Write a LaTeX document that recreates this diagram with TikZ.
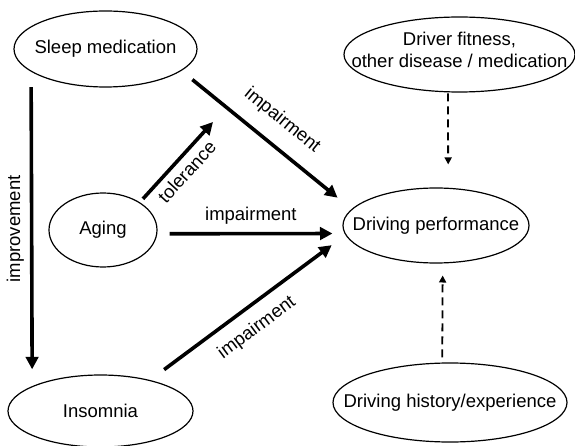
\documentclass[tikz,border=0pt]{standalone}
\usepackage{fontspec}
\setmainfont{Liberation Sans}
\usetikzlibrary{shapes.geometric, arrows.meta}
\newcommand{\diagfont}{\fontsize{18.5}{22}\selectfont}
\tikzset{
    oval/.style={draw, ellipse, line width=1.2pt, inner sep=0pt, font=\diagfont},
    lbl/.style={inner sep=1pt, font=\diagfont},
    bigarrow/.style={-{Triangle[length=12.5pt,width=12.5pt]}, line width=3.6pt},
    dasharrow/.style={-{Triangle[length=7pt,width=7pt]}, line width=1.8pt, dash pattern=on 8pt off 5pt}
}

\begin{document}
\begin{tikzpicture}[x=1pt, y=-1pt]
        \useasboundingbox (0,0) rectangle (575,446);

        % Cause side
        \node (sleep) [oval, minimum width=183pt, minimum height=76pt] at (105.5,49) {\makebox[0pt]{Sleep medication}};
        \node (aging) [oval, minimum width=108pt, minimum height=74pt] at (103,230) {\makebox[0pt]{Aging}};
        \node (insomnia) [oval, minimum width=185pt, minimum height=72pt] at (100.5,411) {\makebox[0pt]{Insomnia}};
        
        % Outcome and other factors
        \node (perf) [oval, minimum width=186pt, minimum height=75pt] at (436,225.5) {\makebox[0pt]{Driving performance}};
        \node (fitness) [oval, minimum width=231pt, minimum height=75pt] at (459.5,54.5) {\makebox[0pt]{\raisebox{-2pt}[0pt][0pt]{\begin{tabular}{@{}c@{}}Driver fitness,\\other disease / medication\end{tabular}}}};
        \node (history) [oval, minimum width=234pt, minimum height=79pt] at (450,402.5) {\makebox[0pt]{Driving history/experience}};
        \coordinate (tolend) at (213,122);
        
        % Main effects
        \draw [bigarrow, shorten <=15.5pt, shorten >=16.8pt] (sleep.197) -- node [lbl, midway, rotate=90, anchor=south, inner ysep=6pt] {improvement} (insomnia.160.7);
        \draw [bigarrow, shorten <=14pt, shorten >=18pt] (sleep.-16) -- node [lbl, midway, sloped, anchor=south, inner ysep=14.5pt] {impairment} (perf.169);
        \draw [bigarrow, shorten <=4.6pt] (aging.37.6) -- node [lbl, midway, sloped, anchor=north, inner ysep=5.5pt] {tolerance} (tolend);
        \draw [bigarrow, shorten <=12.3pt, shorten >=12pt] (aging.-4.3) -- node [lbl, midway, anchor=south, inner ysep=8pt] {impairment} (perf.185.3);
        \draw [bigarrow, shorten <=17.5pt, shorten >=17pt] (insomnia.32.4) -- node [lbl, pos=0.48, sloped, anchor=north, inner ysep=11.5pt] {impairment} (perf.186.5);
        
        % Background influences
        \draw [dasharrow, shorten <=1pt, shorten >=23.3pt] (fitness.-107) -- (perf.72);
        \draw [dasharrow, shorten <=5pt, shorten >=12pt] (history.101.5) -- (perf.-80.9);
        
    \end{tikzpicture}
\end{document}
